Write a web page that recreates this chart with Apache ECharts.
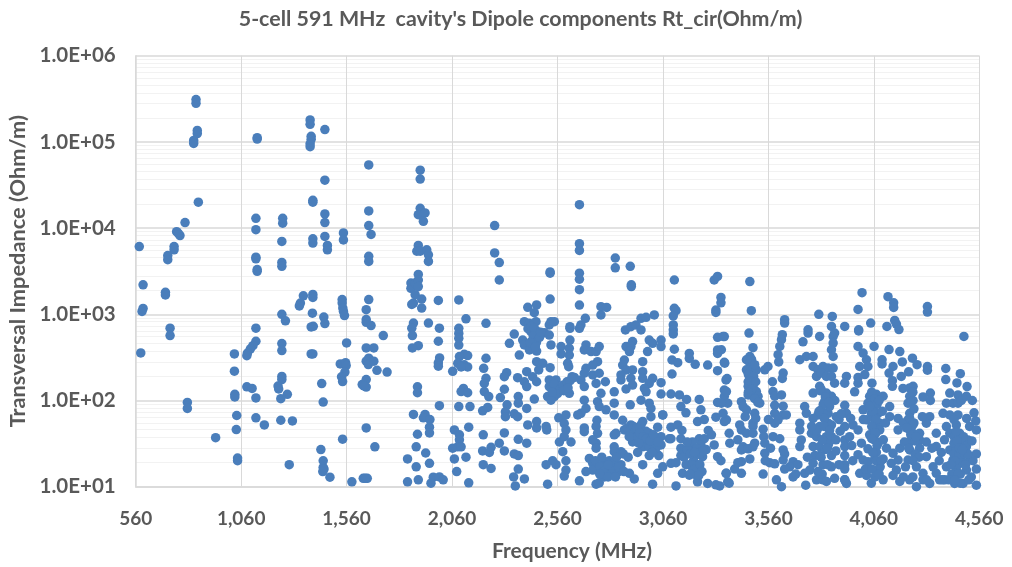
<!DOCTYPE html>
<html><head><meta charset="utf-8">
<style>html,body{margin:0;padding:0;background:#fff}#c{width:1012px;height:567px}</style>
<script src="https://cdn.jsdelivr.net/npm/echarts@6/dist/echarts.min.js"></script>
</head><body><div id="c"></div>
<script>
const chartTitle = "5-cell 591 MHz  cavity's Dipole components Rt_cir(Ohm/m)";
const xTitle = "Frequency (MHz)";
const yTitle = "Transversal Impedance (Ohm/m)";
const xTicks = [560,1060,1560,2060,2560,3060,3560,4060,4560];

const band560 = [[846,3.1e5],[846,2.8e5],[852,1.36e5],[852,1.25e5],[835,1.04e5],[835,9.6e4],[857,2.0e4],[794,1.16e4],[754,9.1e3],[770,8.2e3],[762,8.7e3],[577,6.1e3],[742,6.1e3],[742,5.6e3],[712,4.8e3],[712,4.3e3],[595,2.2e3],[701,1.8e3],[701,1.68e3],[595,1.17e3],[590,1.08e3],[723,690],[723,566],[584,356],[805,95],[805,81],[939,37],[1028,347],[1028,219],[1030,118],[1030,110],[1039,67],[1037,46],[1043,21.5],[1043,20]];
const band1060 = [[1130,1.3e4],[1130,9.6e3],[1130,4.6e3],[1130,4.4e3],[1136,1.12e5],[1136,1.08e5],[1136,3.3e3],[1136,3.15e3],[1130,690],[1130,487],[1116,433],[1104,398],[1090,355],[1087,331],[1087,144],[1112,138],[1130,107],[1130,63],[1170,52],[1257,1.3e4],[1257,1.14e4],[1253,7.0e3],[1253,4.0e3],[1253,3.6e3],[1253,1.0e3],[1270,840],[1253,457],[1253,380],[1253,190],[1253,175],[1235,147],[1238,136],[1279,118],[1248,105],[1248,59],[1303,58],[1288,18],[1341,1.35e3],[1336,1.25e3],[1355,1.64e3],[1400,1.7e3],[1400,1.57e3],[1398,1.03e3],[1392,713],[1402,725],[1392,347],[1400,347],[1387,1.8e5],[1387,1.6e5],[1392,1.16e5],[1392,1.07e5],[1387,9.5e4],[1387,8.8e4],[1457,1.39e5],[1457,3.6e4],[1400,2.1e4],[1400,2.0e4],[1457,1.46e4],[1457,1.16e4],[1400,7.5e3],[1400,6.7e3],[1457,8.0e3],[1469,6.3e3],[1469,5.6e3],[1545,8.8e3],[1545,7.3e3],[1452,930],[1457,780],[1442,157],[1449,96],[1438,27],[1449,20],[1449,16.8],[1453,16],[1447,15],[1481,12.9],[1539,1.48e3],[1539,1.35e3],[1542,1.18e3],[1545,1.08e3],[1550,966]];
const band1560 = [[1560,465],[1530,266],[1555,275],[1558,254],[1552,214],[1536,188],[1541,166],[1541,35.6],[1585,11.4],[1639,12.5],[1658,12.5],[1648,12.5],[1665,5.4e4],[1665,1.58e4],[1665,1.07e4],[1676,8.45e3],[1665,4.7e3],[1665,4.1e3],[1665,1.48e3],[1653,1.13e3],[1653,870],[1653,808],[1676,741],[1653,407],[1689,407],[1734,566],[1665,310],[1653,286],[1663,261],[1689,286],[1704,224],[1752,214],[1653,175],[1634,153],[1653,143],[1642,148],[1653,48],[1694,29],[1865,2.3e3],[1865,2.0e3],[1885,2.3e3],[1900,2.9e3],[1900,2.5e3],[1900,2.1e3],[1885,1.69e3],[1916,1.5e3],[1877,1.35e3],[1869,1.3e3],[1916,1.18e3],[1995,1.45e3],[1877,790],[1869,690],[1872,566],[1900,433],[1872,407],[1948,790],[2000,690],[1995,487],[2001,312],[1995,273],[1995,250],[1896,144],[1896,123],[2000,87],[1877,69],[1932,69],[1924,63],[1955,60],[1953,49],[1953,42],[1896,40.6],[1890,29],[1935,24.6],[1849,21],[1890,17],[1953,18.7],[1849,11.4],[1900,12],[1971,12.9],[2000,13],[2018,12],[1960,11],[1909,4.7e4],[1909,3.7e4],[1909,1.7e4],[1900,1.43e4],[1932,1.5e4],[1924,1.2e4],[1900,6.3e3],[1893,5.4e3],[1909,5.4e3],[1940,5.6e3],[1948,4.9e3],[1948,4.1e3]];
const band2060 = [[2262,1.07e4],[2262,5.15e3],[2284,3.98e3],[2284,2.5e3],[2092,1.47e3],[2126,885],[2092,687],[2092,600],[2092,527],[2092,440],[2118,344],[2095,323],[2134,332],[2087,270],[2118,259],[2134,245],[2063,218],[2103,245],[2114,138],[2103,127],[2134,123],[2092,85],[2145,85],[2071,45.5],[2095,40],[2095,35],[2087,29],[2063,28],[2103,29],[2126,22],[2071,21],[2082,15],[2139,11.1],[2139,49],[2221,785],[2221,309],[2210,236],[2221,181],[2213,158],[2213,127],[2234,111],[2229,83],[2205,76],[2208,40],[2205,26],[2245,28.6],[2237,25],[2208,18],[2245,16.3],[2355,589],[2332,460],[2379,337],[2319,210],[2308,189],[2371,184],[2308,135],[2289,108],[2374,111],[2374,93],[2321,89],[2313,74],[2313,65],[2355,70],[2371,65],[2414,81],[2308,42],[2284,32],[2308,26],[2355,24],[2374,35.5],[2414,32],[2374,23],[2374,16],[2352,13],[2403,12.3],[2360,10.2],
[2419,1205],[2461,1283],[2450,1045],[2403,822],[2427,787],[2458,822],[2434,629],[2466,629],[2498,612],[2395,503],[2403,441],[2442,503],[2427,386],[2461,375],[2529,822],[2521,752],[2545,822],[2521,575],[2529,441],[2461,282],[2490,270],[2525,240],[2414,216],[2471,226],[2442,189],[2403,165],[2461,165],[2414,145],[2521,173],[2553,173],[2521,145],[2553,145],[2513,111],[2545,111],[2529,101],[2450,104],[2461,57],[2461,48],[2506,50],[2509,45.5],[2419,52],[2566,63],[2600,68],[2592,54],[2600,45.5],[2569,33],[2592,38],[2624,33],[2585,25.5],[2537,20],[2553,18],[2600,20],[2600,15.6],[2592,13.3],[2506,18],[2513,10.7],[2525,3.1e3],[2525,3.0e3],[2525,1.5e3],[2664,1.87e4],[2664,6.6e3],[2664,5.5e3],[2664,3.0e3],[2664,2.55e3],[2664,1.93e3],[2664,1.28e3]];
const band2560 = [[2834,4.5e3],[2834,3.46e3],[2905,3.6e3],[2910,2.2e3],[2910,2.1e3],[2577,422],[2577,347],[2619,503],[2619,688],[2616,403],[2616,337],[2608,270],[2613,247],[2629,189],[2671,752],[2664,688],[2692,898],[2695,441],[2687,386],[2719,369],[2743,369],[2758,422],[2750,282],[2727,258],[2695,236],[2687,207],[2727,198],[2758,207],[2671,173],[2687,145],[2743,158],[2787,165],[2600,145],[2616,121],[2766,121],[2829,126],[2829,93],[2687,101],[2750,97],[2758,85],[2790,78],[2695,81],[2671,71],[2656,68],[2829,68],[2747,59],[2869,59],[2687,48],[2687,43.5],[2743,50],[2743,32],[2750,41.6],[2727,35],[2743,28],[2829,40],[2829,29],[2829,25.5],[2861,25.5],[2711,21.3],[2727,18.7],[2727,15.6],[2695,15],[2664,11.7],[2743,10.7],[2758,11.1],[2782,13],[2782,19.5],[2806,20],[2829,18.7],[2829,13.6],[2861,18],[2790,16.3],[2822,16.3],[2901,14.3],[2924,12.3],[3011,10.7],[2964,18],[3035,14.3],[3059,17],[2766,1227],[2793,1200],[2766,982],[2619,719],
[2882,658],[2908,719],[2932,752],[2956,898],[2980,922],[3019,982],[2956,658],[2885,422],[2916,482],[2908,422],[2901,369],[2995,503],[3011,460],[3051,503],[3051,422],[2987,369],[2877,295],[2869,258],[2964,282],[2885,226],[2916,226],[2861,198],[2861,173],[2964,216],[2964,181],[2908,181],[2916,151],[2885,136],[3011,181],[2995,158],[2972,138],[2980,126],[3051,161],[3051,119],[2956,101],[2995,93],[3003,81],[3003,65],[2905,89],[2964,57],[2956,52],[3059,68],[2908,52],[2908,41.6],[2932,41.6],[2877,45.5],[2837,41.6],[2916,33],[2964,33],[2995,41.6],[3035,49],[3051,38],[3011,32],[2964,29],[2995,29],[3051,30.5],[2995,23],[3040,23],[3027,28],[2924,36],[2956,36],[2890,48],[2925,44],[2940,38],[2980,44],[3020,36],[2872,24],[2850,15],[2895,22],[2940,25],[3010,25]];
const band3060 = [[3114,2.5e3],[3303,2.5e3],[3319,2.75e3],[3335,1.57e3],[3335,1.36e3],[3311,1.12e3],[3311,1.05e3],[3114,1175],[3122,1100],[3109,958],[3109,752],[3109,658],[3109,592],[3114,393],[3103,295],[3130,275],[3103,203],[3098,119],[3138,116],[3172,103],[3145,85],[3169,72],[3232,103],[3240,78],[3224,57],[3256,60],[3059,68],[3098,49],[3130,52],[3090,36],[3098,36],[3145,36],[3145,28],[3145,23],[3185,28],[3232,36],[3256,36],[3240,30.5],[3209,22.3],[3185,18],[3224,18],[3248,22.3],[3098,18.7],[3122,19],[3153,14.3],[3185,13.6],[3224,13],[3224,11.4],[3272,10.9],[3311,10.5],[3122,10.2],[3185,352],[3185,308],[3213,263],[3272,258],[3319,386],[3319,352],[3319,541],[3351,551],[3319,222],[3351,277],[3359,173],[3351,132],[3351,111],[3319,95],[3367,93],[3311,64],[3351,57],[3303,30.5],[3319,22.3],[3335,20],[3359,14.3],[3367,11.4],[3160,22],[3175,27],[3200,33],[3215,27],[3170,18],[3200,15],[3150,45],[3265,27],[3275,45],[3290,40],[3205,20],[3235,24]];
const band3360 = [[3472,2400],[3479,1100],[3468,606],[3345,554],[3487,410],[3472,324],[3456,297],[3472,271],[3479,238],[3456,227],[3472,208],[3487,227],[3464,165],[3464,146],[3487,146],[3479,127],[3503,127],[3464,116],[3487,112],[3511,112],[3432,97],[3519,93],[3456,78],[3495,71],[3487,54.5],[3487,50],[3424,52],[3432,45.6],[3456,41.7],[3487,41.7],[3495,32],[3440,29],[3432,26.7],[3464,27.5],[3487,29],[3472,21],[3432,19.5],[3400,16],[3432,14.3],[3361,14.3],[3374,11],[3329,10.2],[3377,32],[3374,41.7],[3361,59.6],[3345,71],[3337,93],[3361,127],[3364,180],[3353,271],[3337,388],[3535,46.5],[3538,38],[3543,32],[3543,24.5],[3566,19],[3590,18.4],[3535,14],[3598,12],[3558,248],[3543,227],[3503,227],[3637,866],[3637,792],[3626,580],[3622,507],[3614,424],[3606,340],[3609,280],[3630,208],[3626,180],[3579,165],[3582,127],[3590,112],[3622,116],[3590,88],[3630,86],[3590,71],[3630,68],[3645,68],[3590,54.5],[3606,59.6],[3582,38],[3614,36],[3630,26.7],[3637,24],[3630,20.4],[3677,19.5],[3661,17],[3637,16],[3677,13],[3622,10],[3415,19],[3450,65],[3415,35],[3500,62],[3440,85],[3560,60],[3570,28],[3545,20]];
const band3680 = [[3709,297],[3740,324],[3772,324],[3803,554],[3748,662],[3748,606],[3724,480],[3799,1000],[3863,946],[3859,724],[3867,554],[3874,606],[3867,464],[3859,388],[3867,324],[3772,248],[3795,227],[3819,248],[3843,238],[3867,238],[3788,190],[3811,208],[3835,190],[3859,190],[3874,159],[3930,190],[3922,159],[3803,146],[3772,122],[3835,122],[3859,112],[3827,98],[3811,78],[3732,85],[3740,71],[3843,71],[3795,68],[3772,62],[3882,65],[3922,88],[3930,71],[3709,54.5],[3709,45.6],[3803,49.9],[3843,54.5],[3859,52],[3922,49.9],[3961,52],[3764,41.7],[3788,38],[3835,38],[3859,38],[3716,34.9],[3709,29.2],[3772,29.2],[3803,29.2],[3922,34.9],[3922,29.2],[3780,23],[3803,23],[3859,23],[3922,23],[3772,18.7],[3819,18],[3859,17],[3922,18],[3732,14.3],[3756,15.6],[3788,12],[3819,12],[3737,10.4],[3874,12.5],[3922,12],[3930,10.9],[3922,16],[3690,14],[3700,18],[3745,22],[3830,27],[3845,31],[3880,35],[3900,44],[3945,38],[3955,30],[3880,26],[3895,18],[3960,20],[3790,45],[3825,62],[3850,85],[3895,60],[3950,62],[3765,50],[3875,100],[3810,135],[3905,70],
[3922,724],[3985,1140],[4004,1780],[3988,662],[3988,640],[4045,792],[3985,424],[4009,355],[4025,297],[4061,424],[4032,248],[3993,248],[4017,200],[3985,185],[3985,159],[3969,126],[4051,159],[4009,78],[4040,112],[4072,118],[4104,112],[4032,93],[4064,93],[4048,71],[4080,71],[4088,54.5],[4135,85],[4135,65],[4025,59.6],[4056,49.9],[4088,45.6],[3985,45.6],[4001,32],[4032,27.5],[4064,34.9],[4080,32],[4072,25],[4009,20.4],[3985,23.5],[4032,19.5],[4064,21],[4104,21],[4151,24.4],[4183,28],[4143,18.7],[4175,20.4],[4167,15.6],[3993,14.3],[4025,13.5],[4048,11],[4104,12],[4151,13.5],[4183,11.5],[3922,12],[4072,15.6],[4040,40],[4070,42],[4010,60],[4105,35],[4115,55],[4120,28],[4020,16],[4090,17],[4060,62],[4100,75]];
const band4090 = [[4127,1600],[4154,1360],[4154,1200],[4122,724],[4159,850],[4167,770],[4179,665],[4314,1230],[4314,1060],[4132,390],[4099,297],[4099,265],[4151,248],[4132,208],[4148,170],[4148,146],[4183,370],[4195,280],[4243,310],[4265,260],[4225,215],[4190,190],[4314,248],[4314,225],[4198,138],[4246,146],[4230,112],[4246,100],[4222,93],[4328,122],[4328,100],[4293,110],[4230,71],[4222,59.6],[4175,62],[4230,45.6],[4175,45.6],[4246,41.7],[4277,41.7],[4325,65],[4309,54.5],[4356,41.7],[4356,29.2],[4277,34.9],[4309,33],[4230,33],[4230,26.7],[4277,28],[4222,20.4],[4262,17],[4309,22.3],[4341,17],[4293,14.3],[4356,14.3],[4230,12],[4262,10],[4293,12],[4325,10.9],[4372,12],[4396,12],[4200,55],[4205,33],[4250,55],[4255,24],[4210,17],[4200,13],[4275,22],[4335,28],[4290,65],[4245,13],[4370,20],[4310,12],
[4487,554],[4401,235],[4401,175],[4470,205],[4454,160],[4502,145],[4420,122],[4459,116],[4404,93],[4435,93],[4459,93],[4475,100],[4499,112],[4527,100],[4388,71],[4420,68],[4459,68],[4404,49.9],[4451,52],[4420,41.7],[4467,41.7],[4514,50],[4543,58],[4546,45.6],[4506,34.9],[4467,32],[4420,26.7],[4451,26.7],[4499,29.2],[4546,24],[4435,20.4],[4475,20.4],[4514,20.4],[4404,17],[4451,15.6],[4499,15.6],[4546,16],[4443,10.9],[4483,10.9],[4546,10.4],[4522,13],[4440,32],[4485,38],[4525,34],[4440,24],[4465,24],[4490,24],[4430,14],[4470,14],[4510,12],[4415,12],[4460,18],[4530,20],[4440,60],[4500,62],[4395,35],[4535,72],[4380,25],[4385,12],[4505,24]];
const denseClusters = [[3480,300],[3495,260],[3465,200],[3490,190],[3470,170],[3500,165],[3480,135],[3465,125],[3495,105],[3510,95],
[4050,125],[4065,105],[4075,90],[4055,75],[4070,60],[4050,50],[4065,42],[4050,36],[4075,30],[4055,25],[4070,20],[4050,16],[4065,13],[4085,100],[4040,85],[4095,20],[4085,14],
[4230,140],[4245,125],[4235,95],[4250,80],[4230,62],[4245,52],[4235,40],[4255,34],[4225,28],[4245,20],[4260,38],[4215,48],
[4440,38],[4455,34],[4465,28],[4445,20],[4460,14],[4470,11],[4445,12],[4480,27],[4495,18],[4450,44],[4425,18],
[3805,130],[3830,110],[3820,90],[3845,95],[3800,75],[3825,50],[3850,45],[3815,35],[3840,28],[3810,22],[3840,18],[3815,14],[3835,11.5],[3795,15],
[2740,20],[2760,17],[2780,15],[2800,18],[2815,14],[2840,22],[2850,17],[2760,14],[2800,13],[2770,22],[2835,13],[2875,15],
[2905,46],[2920,50],[2935,48],[2950,42],[2965,38],[2980,36],[3000,34],[3015,40],[3035,33],[2945,32],[2900,38],
[3175,33],[3190,24],[3200,18],[3210,16],[3220,28],[3235,18],[3245,15],[3250,26],[3190,14],[3210,25],[3230,13.5],
[2420,680],[2435,720],[2450,690],[2445,560],[2460,470],[2475,540],[2430,470],[2455,420],[2480,620],
[2530,165],[2545,155],[2570,135],[2585,150],[2605,165],[2620,170],[2640,185],[2560,120],[2590,130],[2535,125],[2610,140]];

const allPoints = [].concat(band560,band1060,band1560,band2060,band2560,band3060,band3360,band3680,band4090,denseClusters);

const textColor = '#595959';
const font = 'Lato, "Open Sans", sans-serif';
const chart = echarts.init(document.getElementById('c'), null, {renderer:'canvas'});
chart.setOption({
  animation:false,
  backgroundColor:'#fff',
  title:{text:chartTitle,left:515.5,top:4,textAlign:'center',textStyle:{color:textColor,fontFamily:font,fontSize:21.4,fontWeight:'bold'}},
  grid:{left:135.7,right:32.7,top:55.7,bottom:80.3,containLabel:false,outerBoundsMode:'none'},
  xAxis:{type:'value',min:560,max:4560,name:xTitle,nameLocation:'middle',nameGap:54,
    nameTextStyle:{color:textColor,fontFamily:font,fontSize:21,fontWeight:'bold',padding:[0,0,0,29]},
    axisLine:{show:true,lineStyle:{color:'#d9d9d9',width:1.5}},
    axisTick:{show:false,customValues:xTicks},
    axisLabel:{customValues:xTicks,color:textColor,fontFamily:font,fontSize:19,fontWeight:'bold',margin:23,
      formatter:v=>Number(v).toLocaleString('en-US')},
    splitLine:{show:true,lineStyle:{color:'#d9d9d9',width:1}}},
  yAxis:{type:'log',logBase:10,min:10,max:1000000,name:yTitle,nameLocation:'middle',nameGap:94,
    nameTextStyle:{color:textColor,fontFamily:font,fontSize:21.8,fontWeight:'bold'},
    axisLine:{show:true,lineStyle:{color:'#d9d9d9',width:1.5}},
    axisTick:{show:false},
    axisLabel:{color:textColor,fontFamily:font,fontSize:20.5,fontWeight:'bold',margin:20,
      formatter:v=>{const e=Math.round(Math.log10(v));return '1.0E+'+String(e).padStart(2,'0');}},
    splitLine:{show:true,lineStyle:{color:'#d9d9d9',width:1.5}},
    minorTick:{show:false,splitNumber:10},
    minorSplitLine:{show:true,lineStyle:{color:'#f2f2f2',width:1}}},
  series:[{type:'scatter',data:allPoints,symbol:'circle',symbolSize:9.5,clip:false,
    itemStyle:{color:'#4a7ebb',opacity:1}}]
});
</script></body></html>
